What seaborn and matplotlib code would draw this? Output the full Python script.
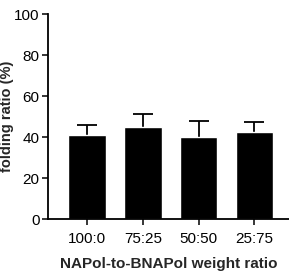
import matplotlib
matplotlib.use("Agg")
import matplotlib.pyplot as plt
import seaborn as sns

RATIOS = ["100:0", "75:25", "50:50", "25:75"]
FOLDING = [41.1, 44.8, 39.9, 42.7]
SD = [5.0, 6.7, 8.1, 4.6]


def main() -> None:
    sns.set_style("ticks")
    plt.rcParams["font.family"] = ["Liberation Sans", "DejaVu Sans"]

    fig = plt.figure(figsize=(2.89, 2.72), dpi=100)
    ax = fig.add_axes([0.1661, 0.194, 0.8339, 0.7545])

    sns.barplot(x=RATIOS, y=FOLDING, color="black", width=0.67,
                errorbar=None, saturation=1, ax=ax, zorder=2)
    _, caps, _ = ax.errorbar(range(len(RATIOS)), FOLDING,
                             yerr=[[0] * len(SD), SD], fmt="none",
                             ecolor="black", elinewidth=1.3, capsize=7,
                             capthick=1.3, zorder=1)
    caps[0].remove()  # only the upper cap, as in the original

    ax.set_ylim(0, 100)
    ax.set_xlim(-0.7, 3.62)
    ax.set_yticks([0, 20, 40, 60, 80, 100])
    ax.tick_params(axis="both", direction="out", length=4, width=1.1,
                   labelsize=11, pad=2, colors="black")
    ax.tick_params(axis="x", pad=5)
    ax.set_ylabel("folding ratio (%)", fontsize=10.5, fontweight="bold")
    ax.yaxis.set_label_coords(-0.14, 0.5)
    ax.set_xlabel("NAPol-to-BNAPol weight ratio", fontsize=11,
                  fontweight="bold", labelpad=8)
    for side in ["left", "bottom"]:
        ax.spines[side].set_linewidth(1.3)
        ax.spines[side].set_color("black")
    sns.despine(ax=ax)

    fig.savefig("out.png", dpi=100)
    plt.close(fig)


if __name__ == "__main__":
    main()
